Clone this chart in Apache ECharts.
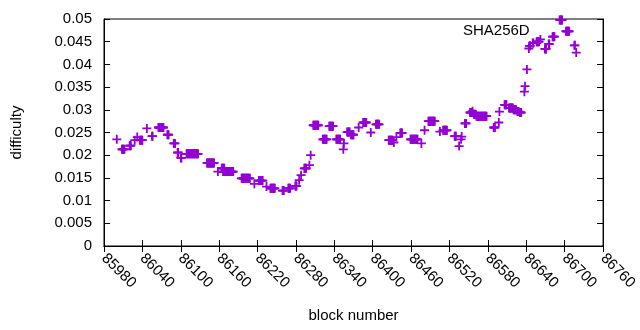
<!DOCTYPE html>
<html>
<head>
<meta charset="utf-8">
<script src="https://cdn.jsdelivr.net/npm/echarts@6/dist/echarts.min.js"></script>
<style>
  html, body { margin: 0; padding: 0; background: #fff; }
  #chart { width: 640px; height: 330px; }
</style>
</head>
<body>
<div id="chart"></div>
<script>
// difficulty stays flat for a stretch of blocks, so data is kept as runs
// runStart[i]..runEnd[i] (block numbers) all share runValue[i]
const runStart = [
  86000, 86008, 86020, 86028, 86032, 86036, 86047, 86055, 86065, 86079,
  86089, 86095, 86100, 86109, 86141, 86158, 86164, 86166, 86195, 86215,
  86222, 86234, 86240, 86259, 86268, 86279, 86285, 86288, 86293, 86301,
  86303, 86307, 86322, 86332, 86343, 86354, 86355, 86360, 86366, 86378,
  86385, 86397, 86405, 86425, 86433, 86437, 86443, 86459, 86476, 86481,
  86487, 86505, 86510, 86528, 86535, 86538, 86539, 86544, 86552, 86556,
  86558, 86562, 86589, 86597, 86598, 86606, 86613, 86620, 86626, 86630,
  86637, 86638, 86641, 86644, 86645, 86650, 86656, 86662, 86669, 86675,
  86681, 86692, 86702, 86715, 86718
];
const runEnd = [
  86000, 86012, 86022, 86028, 86032, 86040, 86047, 86056, 86073, 86081,
  86091, 86096, 86101, 86127, 86152, 86158, 86168, 86182, 86208, 86215,
  86228, 86234, 86247, 86261, 86271, 86281, 86285, 86288, 86296, 86301,
  86303, 86315, 86328, 86338, 86349, 86354, 86355, 86364, 86370, 86378,
  86390, 86397, 86410, 86431, 86433, 86437, 86446, 86470, 86476, 86481,
  86497, 86505, 86516, 86530, 86535, 86538, 86539, 86546, 86554, 86556,
  86560, 86578, 86591, 86597, 86598, 86609, 86619, 86624, 86628, 86632,
  86637, 86638, 86641, 86644, 86646, 86651, 86660, 86662, 86671, 86676,
  86684, 86696, 86707, 86716, 86718
];
const runValue = [
  0.0235, 0.0213, 0.0221, 0.0233, 0.0240, 0.0233, 0.0259, 0.0242, 0.0261, 0.0245,
  0.0226, 0.0206, 0.0194, 0.0203, 0.0183, 0.0164, 0.0171, 0.0164, 0.0149, 0.0137,
  0.0144, 0.0131, 0.0127, 0.0122, 0.0127, 0.0132, 0.0145, 0.0156, 0.0171, 0.0178,
  0.0200, 0.0266, 0.0235, 0.0264, 0.0235, 0.0213, 0.0226, 0.0251, 0.0245, 0.0261,
  0.0272, 0.0250, 0.0268, 0.0233, 0.0228, 0.0240, 0.0249, 0.0235, 0.0226, 0.0255,
  0.0275, 0.0252, 0.0255, 0.0242, 0.0220, 0.0235, 0.0241, 0.0270, 0.0294, 0.0297,
  0.0290, 0.0286, 0.0261, 0.0272, 0.0296, 0.0311, 0.0304, 0.0300, 0.0296, 0.0294,
  0.0340, 0.0352, 0.0389, 0.0435, 0.0441, 0.0447, 0.0450, 0.0455, 0.0434, 0.0445,
  0.0461, 0.0498, 0.0473, 0.0442, 0.0426
];

const seriesName = 'SHA256D';
const xMin = 85980, xMax = 86760, xStep = 60;
const yMin = 0, yMax = 0.05, yStep = 0.005;

const points = [];
runStart.forEach((s, i) => {
  for (let b = s; b <= runEnd[i]; b++) points.push([b, runValue[i]]);
});

const purple = '#9400d3';
const font = 'Liberation Sans, Arial, sans-serif';
const plus = 'path://M0,3.2H8V4.8H0Z M3.2,0H4.8V8H3.2Z';

const chart = echarts.init(document.getElementById('chart'), null, {renderer: 'canvas'});

const tick = {show: true, inside: true, length: 6, lineStyle: {color: '#000', width: 1}};
const line = {show: true, lineStyle: {color: '#000', width: 1}};

chart.setOption({
  animation: false,
  backgroundColor: '#fff',
  grid: {
    left: 104, right: 31, top: 19, bottom: 84,
    show: true, borderColor: '#000', borderWidth: 1,
  },
  xAxis: [
    {
      type: 'value', min: xMin, max: xMax, interval: xStep,
      name: 'block number', nameLocation: 'middle', nameGap: 62,
      nameTextStyle: {color: '#000', fontSize: 15, fontFamily: font},
      axisLine: line, axisTick: tick, splitLine: {show: false},
      axisLabel: {
        rotate: -45, margin: 10, color: '#000', fontSize: 15, fontFamily: font,
        showMaxLabel: true, showMinLabel: true,
        formatter: v => String(v),
      },
    },
    {
      type: 'value', position: 'top', min: xMin, max: xMax, interval: xStep,
      axisLine: line, axisTick: tick, axisLabel: {show: false}, splitLine: {show: false},
    },
  ],
  yAxis: [
    {
      type: 'value', min: yMin, max: yMax, interval: yStep,
      name: 'difficulty', nameLocation: 'middle', nameGap: 80,
      nameTextStyle: {color: '#000', fontSize: 15, fontFamily: font},
      axisLine: line, axisTick: tick, splitLine: {show: false},
      axisLabel: {
        margin: 12, color: '#000', fontSize: 15, fontFamily: font,
        formatter: v => String(+v.toFixed(3)),
      },
    },
    {
      type: 'value', position: 'right', min: yMin, max: yMax, interval: yStep,
      axisLine: line, axisTick: tick, axisLabel: {show: false}, splitLine: {show: false},
    },
  ],
  graphic: [
    {
      type: 'text', left: 463, top: 23,
      style: {text: seriesName, fill: '#000', font: '15px ' + font},
    },
  ],
  series: [
    {
      name: seriesName, type: 'scatter', data: points,
      symbol: plus, symbolSize: 9,
      itemStyle: {color: purple, opacity: 1},
    },
  ],
});
</script>
</body>
</html>
